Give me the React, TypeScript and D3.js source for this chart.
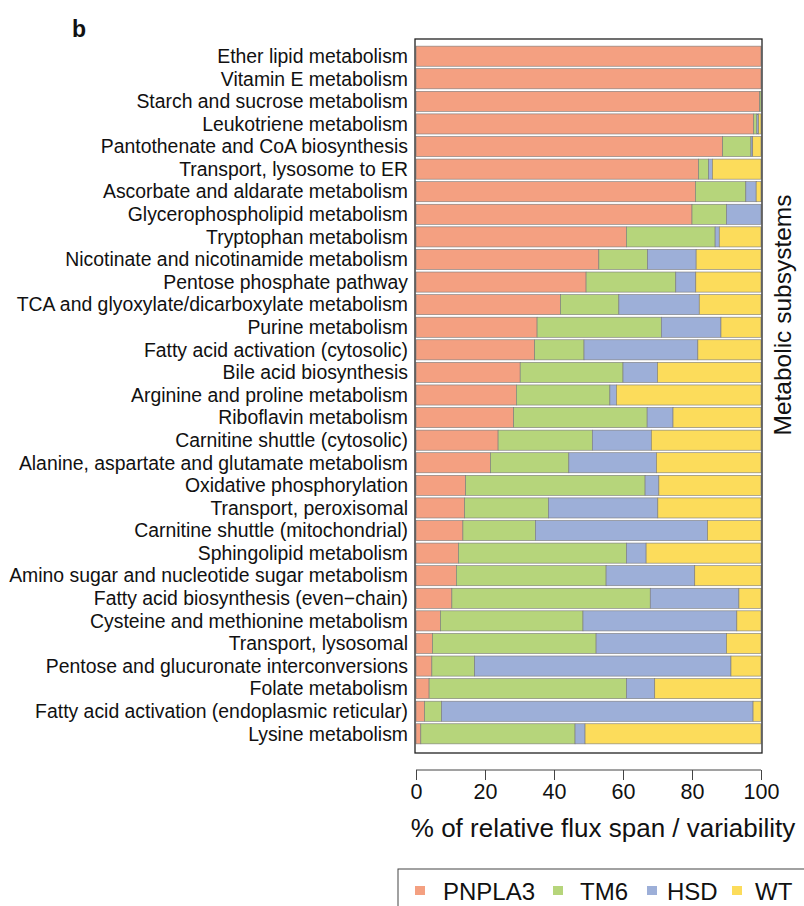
import React, { useEffect, useRef } from 'react';
import * as d3 from 'd3';

const subsystems = [
  'Ether lipid metabolism',
  'Vitamin E metabolism',
  'Starch and sucrose metabolism',
  'Leukotriene metabolism',
  'Pantothenate and CoA biosynthesis',
  'Transport, lysosome to ER',
  'Ascorbate and aldarate metabolism',
  'Glycerophospholipid metabolism',
  'Tryptophan metabolism',
  'Nicotinate and nicotinamide metabolism',
  'Pentose phosphate pathway',
  'TCA and glyoxylate/dicarboxylate metabolism',
  'Purine metabolism',
  'Fatty acid activation (cytosolic)',
  'Bile acid biosynthesis',
  'Arginine and proline metabolism',
  'Riboflavin metabolism',
  'Carnitine shuttle (cytosolic)',
  'Alanine, aspartate and glutamate metabolism',
  'Oxidative phosphorylation',
  'Transport, peroxisomal',
  'Carnitine shuttle (mitochondrial)',
  'Sphingolipid metabolism',
  'Amino sugar and nucleotide sugar metabolism',
  'Fatty acid biosynthesis (even\u2212chain)',
  'Cysteine and methionine metabolism',
  'Transport, lysosomal',
  'Pentose and glucuronate interconversions',
  'Folate metabolism',
  'Fatty acid activation (endoplasmic reticular)',
  'Lysine metabolism',
];

const pnpla3 = [100, 100, 99.6, 97.9, 88.9, 81.9, 81.0, 80.0, 61.0, 53.0, 49.3, 41.9, 35.1, 34.4, 30.2, 29.1, 28.3, 23.8, 21.6, 14.4, 14.1, 13.6, 12.3, 11.7, 10.4, 7.1, 4.8, 4.6, 3.8, 2.5, 1.4];
const tm6 = [0, 0, 0.4, 0.9, 8.2, 2.9, 14.6, 10.0, 25.7, 14.1, 26.0, 16.9, 36.0, 14.3, 29.8, 27.1, 38.7, 27.3, 22.7, 52.0, 24.3, 21.0, 48.7, 43.4, 57.5, 41.3, 47.4, 12.4, 57.2, 4.9, 44.7];
const hsd = [0, 0, 0, 0.5, 0.5, 1.1, 3.0, 10.0, 1.2, 14.1, 5.8, 23.3, 17.3, 33.0, 10.0, 1.9, 7.5, 17.1, 25.4, 4.0, 31.7, 49.9, 5.7, 25.7, 25.7, 44.6, 37.8, 74.3, 8.2, 90.3, 2.9];
const wt = [0, 0, 0, 0.7, 2.4, 14.1, 1.4, 0, 12.1, 18.8, 18.9, 17.9, 11.6, 18.3, 30.0, 41.9, 25.5, 31.8, 30.3, 29.6, 29.9, 15.5, 33.3, 19.2, 6.4, 7.0, 10.0, 8.7, 30.8, 2.3, 51.0];

const groups = ['PNPLA3', 'TM6', 'HSD', 'WT'];
const colors = ['#F4A081', '#B6D57B', '#9DAFD8', '#FCDC5B'];
const xTicks = [0, 20, 40, 60, 80, 100];

const FONT = '"Liberation Sans", Arial, Helvetica, sans-serif';

export default function App() {
  const ref = useRef<SVGSVGElement>(null);

  useEffect(() => {
    if (!ref.current) return;
    const svg = d3.select(ref.current);
    svg.selectAll('*').remove();

    const left = 416, right = 761, top = 39, bottom = 753;

    const rows = subsystems.map((name, i) => {
      const vals = [pnpla3[i], tm6[i], hsd[i], wt[i]];
      return { name, vals };
    });

    const x = d3.scaleLinear().domain([0, 100]).range([left, right]);
    const y = d3.scaleBand()
      .domain(subsystems)
      .range([top + 6, bottom - 8])
      .paddingInner(0.11)
      .paddingOuter(0.05);

    // bars
    rows.forEach(r => {
      let acc = 0;
      r.vals.forEach((v, k) => {
        if (v <= 0) return;
        svg.append('rect')
          .attr('x', x(acc))
          .attr('y', y(r.name)!)
          .attr('width', x(acc + v) - x(acc))
          .attr('height', y.bandwidth())
          .attr('fill', colors[k])
          .attr('stroke', '#7a7a7a')
          .attr('stroke-width', 0.6);
        acc += v;
      });
    });

    // plot box
    svg.append('rect')
      .attr('x', left - 1).attr('y', top)
      .attr('width', right - left + 2).attr('height', bottom - top)
      .attr('fill', 'none').attr('stroke', '#222').attr('stroke-width', 1.3);

    // category labels
    svg.append('g').selectAll('text').data(subsystems).enter().append('text')
      .attr('x', left - 8)
      .attr('y', d => y(d)! + y.bandwidth() / 2)
      .attr('dy', '0.35em')
      .attr('text-anchor', 'end')
      .attr('font-family', FONT)
      .attr('font-size', '19.4px')
      .attr('fill', '#111')
      .text(d => d);

    // x axis
    const axis = d3.axisBottom(x).tickValues(xTicks).tickSize(10).tickPadding(4).tickSizeOuter(0);
    const gx = svg.append('g').attr('transform', 'translate(0,770)').call(axis);
    gx.select('.domain').attr('stroke', '#444').attr('d', `M${left},0H${right}`);
    gx.selectAll('.tick line').attr('stroke', '#444');
    gx.selectAll('.tick text')
      .attr('font-family', FONT).attr('font-size', '21.5px').attr('fill', '#111');

    svg.append('text')
      .attr('x', 603)
      .attr('y', 837)
      .attr('text-anchor', 'middle')
      .attr('font-family', FONT).attr('font-size', '26px').attr('fill', '#111')
      .text('% of relative flux span / variability');

    svg.append('text')
      .attr('transform', 'translate(791,315) rotate(-90)')
      .attr('text-anchor', 'middle')
      .attr('font-family', FONT).attr('font-size', '24.5px').attr('fill', '#111')
      .text('Metabolic subsystems');

    svg.append('text')
      .attr('x', 72).attr('y', 37)
      .attr('font-family', FONT).attr('font-size', '23px').attr('font-weight', 'bold')
      .attr('fill', '#111')
      .text('b');

    // legend
    svg.append('rect')
      .attr('x', 398).attr('y', 869).attr('width', 420).attr('height', 60)
      .attr('fill', 'none').attr('stroke', '#444').attr('stroke-width', 1);
    const legendX = [415, 553, 647, 732];
    const textX = [443, 580, 667, 755];
    groups.forEach((g, i) => {
      svg.append('rect')
        .attr('x', legendX[i]).attr('y', 886).attr('width', 10).attr('height', 9)
        .attr('fill', colors[i]);
      svg.append('text')
        .attr('x', textX[i]).attr('y', 900)
        .attr('font-family', FONT).attr('font-size', '24px').attr('fill', '#111')
        .text(g);
    });
  }, []);

  return (
    <svg ref={ref} width={804} height={906}
      style={{ position: 'absolute', left: 0, top: 0, background: '#fff' }} />
  );
}
